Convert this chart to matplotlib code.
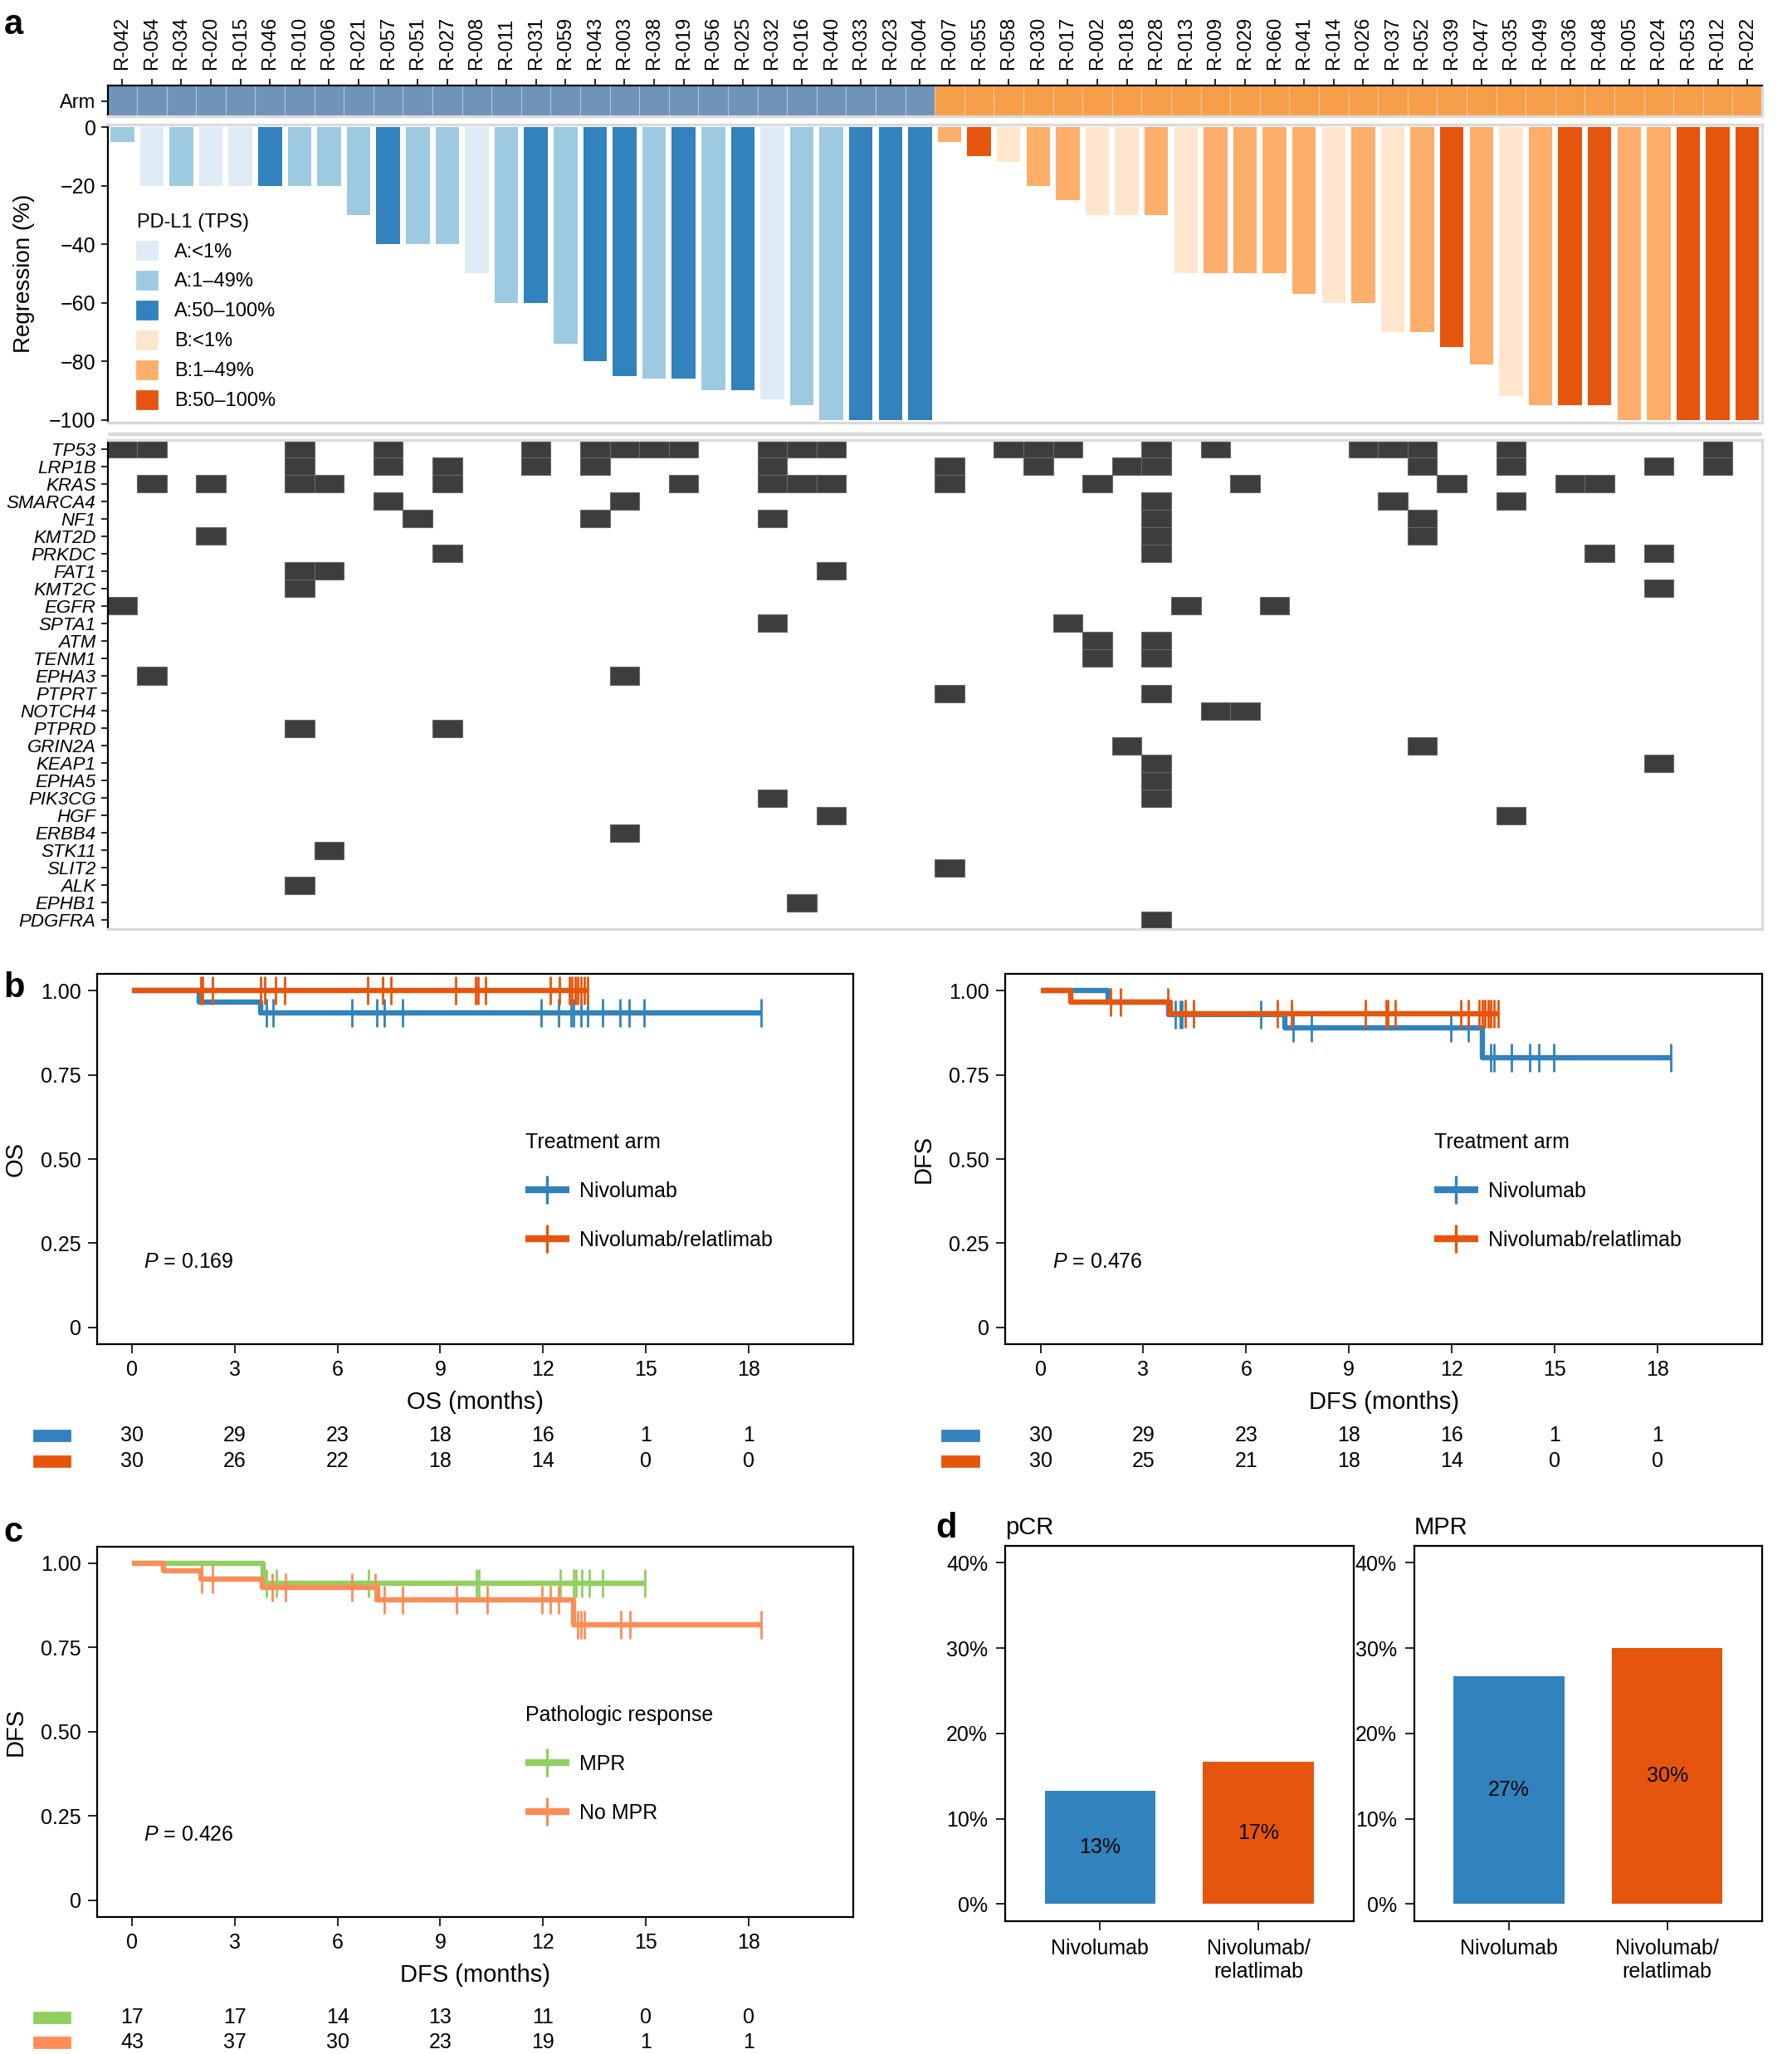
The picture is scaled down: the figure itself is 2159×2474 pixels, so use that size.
import numpy as np
import matplotlib
matplotlib.use('Agg')
import matplotlib.pyplot as plt
import matplotlib.patches as mpatches
import matplotlib.transforms as mtransforms
from matplotlib.lines import Line2D

plt.rcParams['font.family'] = ['Liberation Sans', 'DejaVu Sans']
plt.rcParams['mathtext.fontset'] = 'custom'
plt.rcParams['mathtext.it'] = 'Liberation Sans:italic'
plt.rcParams['mathtext.rm'] = 'Liberation Sans'
plt.rcParams['lines.solid_capstyle'] = 'butt'

# ---------------- panel a: waterfall + oncoprint ----------------
samples = ['R-042', 'R-054', 'R-034', 'R-020', 'R-015', 'R-046', 'R-010', 'R-006', 'R-021', 'R-057', 'R-051', 'R-027', 'R-008', 'R-011',
           'R-031', 'R-059', 'R-043', 'R-003', 'R-038', 'R-019', 'R-056', 'R-025', 'R-032', 'R-016', 'R-040', 'R-033', 'R-023', 'R-004',
           'R-007', 'R-055', 'R-058', 'R-030', 'R-017', 'R-002', 'R-018', 'R-028', 'R-013', 'R-009', 'R-029', 'R-060', 'R-041', 'R-014',
           'R-026', 'R-037', 'R-052', 'R-039', 'R-047', 'R-035', 'R-049', 'R-036', 'R-048', 'R-005', 'R-024', 'R-053', 'R-012', 'R-022']
arm = ['A'] * 28 + ['B'] * 28
regression = [-5, -20, -20, -20, -20, -20, -20, -20, -30, -40, -40, -40, -50, -60,
              -60, -74, -80, -85, -86, -86, -90, -90, -93, -95, -100, -100, -100, -100,
              -5, -10, -12, -20, -25, -30, -30, -30, -50, -50, -50, -50, -57, -60,
              -60, -70, -70, -75, -81, -92, -95, -95, -95, -100, -100, -100, -100, -100]
tps = ['1-49', '<1', '1-49', '<1', '<1', '50-100', '1-49', '1-49', '1-49', '50-100', '1-49', '1-49', '<1', '1-49',
       '50-100', '1-49', '50-100', '50-100', '1-49', '50-100', '1-49', '50-100', '<1', '1-49', '1-49', '50-100', '50-100', '50-100',
       '1-49', '50-100', '<1', '1-49', '1-49', '<1', '<1', '1-49', '<1', '1-49', '1-49', '1-49', '1-49', '<1',
       '1-49', '<1', '1-49', '50-100', '1-49', '<1', '1-49', '50-100', '50-100', '1-49', '1-49', '50-100', '50-100', '50-100']
tps_keys = ['A:<1', 'A:1-49', 'A:50-100', 'B:<1', 'B:1-49', 'B:50-100']
tps_labels = ['A:<1%', 'A:1\u201349%', 'A:50\u2013100%', 'B:<1%', 'B:1\u201349%', 'B:50\u2013100%']
tps_cols = ['#deebf7', '#9ecae1', '#3182bd', '#fee6ce', '#fdae6b', '#e6550d']

genes = ['TP53', 'LRP1B', 'KRAS', 'SMARCA4', 'NF1', 'KMT2D', 'PRKDC', 'FAT1', 'KMT2C', 'EGFR', 'SPTA1', 'ATM', 'TENM1', 'EPHA3',
         'PTPRT', 'NOTCH4', 'PTPRD', 'GRIN2A', 'KEAP1', 'EPHA5', 'PIK3CG', 'HGF', 'ERBB4', 'STK11', 'SLIT2', 'ALK', 'EPHB1', 'PDGFRA']
gene_hits = [
    ['R-042', 'R-054', 'R-010', 'R-057', 'R-031', 'R-043', 'R-003', 'R-038', 'R-019', 'R-032', 'R-016', 'R-040',
     'R-058', 'R-030', 'R-017', 'R-028', 'R-009', 'R-026', 'R-037', 'R-052', 'R-035', 'R-012'],
    ['R-010', 'R-057', 'R-027', 'R-031', 'R-043', 'R-032', 'R-007', 'R-030', 'R-018', 'R-028', 'R-052', 'R-035', 'R-024', 'R-012'],
    ['R-054', 'R-020', 'R-010', 'R-006', 'R-027', 'R-019', 'R-032', 'R-016', 'R-040', 'R-007', 'R-002', 'R-029', 'R-039', 'R-036', 'R-048'],
    ['R-057', 'R-003', 'R-028', 'R-037', 'R-035'],
    ['R-051', 'R-043', 'R-032', 'R-028', 'R-052'],
    ['R-020', 'R-028', 'R-052'],
    ['R-027', 'R-028', 'R-048', 'R-024'],
    ['R-010', 'R-006', 'R-040'],
    ['R-010', 'R-024'],
    ['R-042', 'R-013', 'R-060'],
    ['R-032', 'R-017'],
    ['R-002', 'R-028'],
    ['R-002', 'R-028'],
    ['R-054', 'R-003'],
    ['R-007', 'R-028'],
    ['R-009', 'R-029'],
    ['R-010', 'R-027'],
    ['R-018', 'R-052'],
    ['R-028', 'R-024'],
    ['R-028'],
    ['R-032', 'R-028'],
    ['R-040', 'R-035'],
    ['R-003'],
    ['R-006'],
    ['R-007'],
    ['R-010'],
    ['R-016'],
    ['R-028'],
]
arm_cols = {'A': '#7093b9', 'B': '#f69f48'}

# ---------------- panel b / c: Kaplan-Meier ----------------
km_ticks = [0, 3, 6, 9, 12, 15, 18]

os_nivo_t = [0, 1.95, 3.75]
os_nivo_s = [1.0, 0.967, 0.933]
os_nivo_end = 18.38
os_nivo_cens = [3.92, 4.12, 6.41, 7.14, 7.36, 7.89, 11.95, 12.46, 12.83, 12.9, 13.11, 13.3, 13.73, 14.26, 14.51, 14.96, 18.38]
os_rela_t = [0]
os_rela_s = [1.0]
os_rela_end = 13.31
os_rela_cens = [2.0, 2.05, 2.34, 3.75, 3.87, 4.2, 4.45, 6.89, 7.31, 7.57, 9.46, 10.04, 10.11, 10.33,
                12.21, 12.48, 12.78, 12.85, 12.93, 13.01, 13.1, 13.2, 13.31]
os_risk_nivo = [30, 29, 23, 18, 16, 1, 1]
os_risk_rela = [30, 26, 22, 18, 14, 0, 0]

dfs_nivo_t = [0, 1.97, 3.75, 7.13, 12.88]
dfs_nivo_s = [1.0, 0.967, 0.93, 0.889, 0.80]
dfs_nivo_end = 18.38
dfs_nivo_cens = [3.93, 4.08, 4.13, 6.42, 7.38, 7.9, 11.97, 12.47, 13.13, 13.22, 13.75, 14.27, 14.53, 14.97, 18.38]
dfs_rela_t = [0, 0.88, 3.8]
dfs_rela_s = [1.0, 0.967, 0.931]
dfs_rela_end = 13.35
dfs_rela_cens = [2.05, 2.33, 3.72, 4.23, 4.47, 6.92, 7.33, 9.48, 10.08, 10.13, 10.35,
                 12.25, 12.47, 12.8, 12.88, 12.97, 13.05, 13.13, 13.23, 13.35]
dfs_risk_nivo = [30, 29, 23, 18, 16, 1, 1]
dfs_risk_rela = [30, 25, 21, 18, 14, 0, 0]

mpr_t = [0, 3.82]
mpr_s = [1.0, 0.941]
mpr_end = 14.98
mpr_cens = [3.92, 4.22, 6.9, 10.06, 10.13, 12.5, 12.9, 12.96, 13.13, 13.35, 13.75, 14.98]
nompr_t = [0, 0.92, 2.0, 3.8, 7.17, 12.9]
nompr_s = [1.0, 0.977, 0.954, 0.928, 0.892, 0.817]
nompr_end = 18.38
nompr_cens = [2.04, 2.34, 4.1, 4.49, 6.41, 7.1, 7.36, 7.91, 9.48, 10.36, 11.96, 12.21, 12.46,
              13.01, 13.11, 13.21, 14.28, 14.53, 18.38]
risk_mpr = [17, 17, 14, 13, 11, 0, 0]
risk_nompr = [43, 37, 30, 23, 19, 1, 1]

# ---------------- panel d ----------------
groups = ['Nivolumab', 'Nivolumab/\nrelatlimab']
pcr = [13.3, 16.7]
mpr = [26.7, 30.0]

blue = '#3182bd'
red = '#e6550d'
green = '#91cf60'
salmon = '#fc8d59'
grey = '#dadada'

W, H = 2159, 2474
fig = plt.figure(figsize=(W / 200, H / 200), dpi=200)


def frac(x0, y0, x1, y1):
    return [x0 / W, 1 - y1 / H, (x1 - x0) / W, (y1 - y0) / H]


x = np.arange(len(samples))

# arm strip
ax_arm = fig.add_axes(frac(129.5, 103.3, 2123, 140))
ax_arm.bar(x, 1, width=1, color=[arm_cols[a] for a in arm], edgecolor='#ffffff40', lw=0.4)
ax_arm.set_xlim(-0.5, len(samples) - 0.5)
ax_arm.set_ylim(0, 1)
ax_arm.xaxis.tick_top()
ax_arm.set_xticks(x)
ax_arm.set_xticklabels(samples, rotation=90, fontsize=8.5)
ax_arm.tick_params(axis='x', length=3, pad=4, width=0.6)
ax_arm.set_yticks([0.5])
ax_arm.set_yticklabels(['Arm'], fontsize=8.5)
ax_arm.tick_params(axis='y', length=3, width=0.6, pad=2)
for s in ['bottom', 'right']:
    ax_arm.spines[s].set_color(grey)
    ax_arm.spines[s].set_linewidth(1.2)
ax_arm.spines['top'].set_linewidth(0.8)
ax_arm.spines['left'].set_linewidth(0.8)

# waterfall
ax_w = fig.add_axes(frac(129.5, 149.5, 2123, 509.2))
bar_cols = [tps_cols[tps_keys.index(a + ':' + t)] for a, t in zip(arm, tps)]
ax_w.bar(x, regression, width=0.8, color=bar_cols)
ax_w.set_xlim(-0.5, len(samples) - 0.5)
ax_w.set_ylim(-101, 1)
ax_w.set_xticks([])
ax_w.set_yticks([0, -20, -40, -60, -80, -100])
ax_w.tick_params(axis='y', labelsize=9, length=3, width=0.6, pad=2)
ax_w.set_ylabel('Regression (%)', fontsize=10)
ax_w.yaxis.set_label_coords(-0.044, 0.5)
for s in ['top', 'bottom', 'right']:
    ax_w.spines[s].set_color(grey)
    ax_w.spines[s].set_linewidth(1.2)
ax_w.spines['left'].set_linewidth(0.8)
handles = [mpatches.Patch(color=c, label=l) for c, l in zip(tps_cols, tps_labels)]
ax_w.legend(handles=handles, title='PD-L1 (TPS)', loc='upper left', bbox_to_anchor=(0.012, 0.735),
            frameon=False, fontsize=8.5, title_fontsize=8.5, handlelength=1.0, handleheight=1.0,
            labelspacing=0.52, borderpad=0, handletextpad=0.9, alignment='left')

fig.add_artist(Line2D([129.5 / W, 2123 / W], [1 - 523 / H, 1 - 523 / H], color=grey, lw=1.6))

# oncoprint
ax_m = fig.add_axes(frac(129.5, 530, 2123, 1119))
for gi, hits in enumerate(gene_hits):
    cols = [samples.index(s) for s in hits]
    ax_m.bar(cols, 1, bottom=gi - 0.5, width=1, color='#3d3d3d', edgecolor='#666666', lw=0.4)
ax_m.set_xlim(-0.5, len(samples) - 0.5)
ax_m.set_ylim(len(genes) - 0.5, -0.5)
ax_m.set_xticks([])
ax_m.set_yticks(np.arange(len(genes)))
ax_m.set_yticklabels(genes, fontsize=8, style='italic')
ax_m.tick_params(axis='y', length=3, width=0.6, pad=2)
for s in ['top', 'bottom', 'right']:
    ax_m.spines[s].set_color(grey)
    ax_m.spines[s].set_linewidth(1.2)
ax_m.spines['left'].set_linewidth(0.8)


def draw_curve(ax, t, s, t_end, cens, color):
    ax.step(list(t) + [t_end], list(s) + [s[-1]], where='post', color=color, lw=2.3)
    idx = np.searchsorted(t, cens, side='right') - 1
    ax.plot(cens, np.array(s)[idx], ls='none', marker='|', ms=12, mew=1.0, color=color)


def setup_km(ax, xlabel, ylabel, pval, leg_title, labels, colors, risks, rows):
    ax.set_xlim(-1.02, 21.05)
    ax.set_ylim(-0.05, 1.05)
    ax.set_xticks(km_ticks)
    ax.set_yticks([0, 0.25, 0.5, 0.75, 1.0])
    ax.set_yticklabels(['0', '0.25', '0.50', '0.75', '1.00'])
    ax.tick_params(labelsize=9, length=4, width=0.6)
    ax.tick_params(axis='x', pad=3)
    ax.tick_params(axis='y', pad=3)
    for sp in ax.spines.values():
        sp.set_linewidth(0.8)
    ax.set_xlabel(xlabel, fontsize=10.5)
    ax.xaxis.set_label_coords(0.5, -0.125)
    ax.set_ylabel(ylabel, fontsize=10.5)
    ax.yaxis.set_label_coords(-0.093, 0.5)
    ax.text(0.062, 0.222, '$P$ = ' + pval, transform=ax.transAxes, fontsize=9, va='center')
    hs = [Line2D([], [], color=c, lw=3, marker='|', ms=12, mew=1.2) for c in colors]
    ax.legend(hs, labels, title=leg_title, loc='upper left', bbox_to_anchor=(0.553, 0.60),
              frameon=False, fontsize=9, title_fontsize=9, labelspacing=1.4, handlelength=2.1,
              handletextpad=0.5, borderpad=0, alignment='left')
    trans = mtransforms.blended_transform_factory(ax.transData, ax.transAxes)
    for risk, row, c in zip(risks, rows, colors):
        for tt, n in zip(km_ticks, risk):
            ax.text(tt, row, str(n), transform=trans, ha='center', va='center', fontsize=9)
        ax.add_patch(mpatches.Rectangle((-2.87, row - 0.0135), 1.06, 0.027, transform=trans,
                                        color=c, clip_on=False))


ax_os = fig.add_axes(frac(117, 1173, 1027.6, 1619))
draw_curve(ax_os, os_nivo_t, os_nivo_s, os_nivo_end, os_nivo_cens, blue)
draw_curve(ax_os, os_rela_t, os_rela_s, os_rela_end, os_rela_cens, red)
setup_km(ax_os, 'OS (months)', 'OS', '0.169', 'Treatment arm', ['Nivolumab', 'Nivolumab/relatlimab'],
         [blue, red], [os_risk_nivo, os_risk_rela], [-0.247, -0.316])

ax_dfs = fig.add_axes(frac(1211.4, 1173, 2123, 1619))
draw_curve(ax_dfs, dfs_nivo_t, dfs_nivo_s, dfs_nivo_end, dfs_nivo_cens, blue)
draw_curve(ax_dfs, dfs_rela_t, dfs_rela_s, dfs_rela_end, dfs_rela_cens, red)
setup_km(ax_dfs, 'DFS (months)', 'DFS', '0.476', 'Treatment arm', ['Nivolumab', 'Nivolumab/relatlimab'],
         [blue, red], [dfs_risk_nivo, dfs_risk_rela], [-0.247, -0.316])

ax_c = fig.add_axes(frac(117, 1862.6, 1027.6, 2309))
draw_curve(ax_c, mpr_t, mpr_s, mpr_end, mpr_cens, green)
draw_curve(ax_c, nompr_t, nompr_s, nompr_end, nompr_cens, salmon)
setup_km(ax_c, 'DFS (months)', 'DFS', '0.426', 'Pathologic response', ['MPR', 'No MPR'],
         [green, salmon], [risk_mpr, risk_nompr], [-0.271, -0.338])

# panel d
for pos, title, vals in [((1211, 1861.7, 1630.6, 2314), 'pCR', pcr), ((1703.5, 1861.7, 2123, 2314), 'MPR', mpr)]:
    ax = fig.add_axes(frac(*pos))
    xb = np.arange(1, len(groups) + 1)
    ax.bar(xb, vals, width=0.7, color=[blue, red])
    for xi, v in zip(xb, vals):
        ax.text(xi, v / 2, f'{v:.0f}%', ha='center', va='center', fontsize=9)
    ax.set_xlim(0.4, 2.6)
    ax.set_ylim(-2, 42)
    ax.set_xticks(xb)
    ax.set_xticklabels(groups, fontsize=9)
    ax.set_yticks([0, 10, 20, 30, 40])
    ax.set_yticklabels(['0%', '10%', '20%', '30%', '40%'])
    ax.tick_params(labelsize=9, length=4, width=0.6)
    ax.tick_params(axis='x', pad=3.5)
    for sp in ax.spines.values():
        sp.set_linewidth(0.8)
    ax.set_title(title, loc='left', fontsize=10.5, pad=5)

for lab, xx, yy in [('a', 0.002, 0.996), ('b', 0.002, 0.527), ('c', 0.002, 0.262), ('d', 0.522, 0.264)]:
    fig.text(xx, yy, lab, fontsize=15, fontweight='bold', va='top', ha='left')

fig.savefig('out.png', dpi=200)
